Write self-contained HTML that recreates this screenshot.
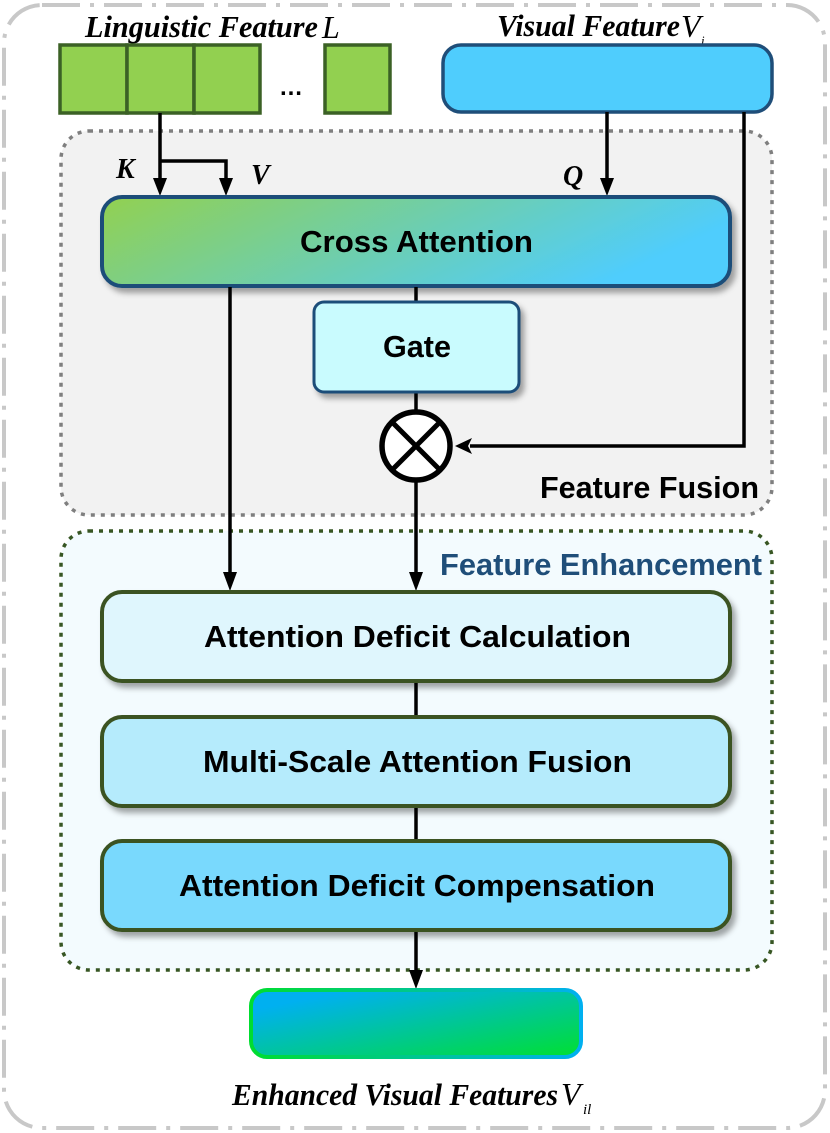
<!DOCTYPE html>
<html><head><meta charset="utf-8"><style>
html,body{margin:0;padding:0;background:#fff}
svg{display:block}
.b{font-family:"Liberation Sans",sans-serif;font-weight:bold;fill:#000}
.t{font-family:"Liberation Serif",serif;font-style:italic;font-weight:bold;fill:#000}
</style></head><body>
<svg width="830" height="1133" viewBox="0 0 830 1133" xmlns="http://www.w3.org/2000/svg">
<defs>
<linearGradient id="ca" x1="0" y1="0" x2="1" y2="0.3"><stop offset="0" stop-color="#92d050"/><stop offset="1" stop-color="#4fcdfd"/></linearGradient>
<linearGradient id="og" x1="0" y1="0" x2="1" y2="1"><stop offset="0.15" stop-color="#00b0f0"/><stop offset="1" stop-color="#00e030"/></linearGradient>
<linearGradient id="os" x1="0" y1="0" x2="1" y2="0"><stop offset="0" stop-color="#00dd30"/><stop offset="1" stop-color="#00b0f0"/></linearGradient>
<filter id="sh" x="-5%" y="-10%" width="115%" height="130%"><feDropShadow dx="4" dy="5" stdDeviation="3" flood-color="#000" flood-opacity="0.35"/></filter>
</defs>
<rect x="4" y="5" width="821" height="1123" rx="38" fill="none" stroke="#c8c8c8" stroke-width="4" stroke-dasharray="38,10,4,10"/>
<rect x="61" y="131" width="711" height="384" rx="28" fill="#f2f2f2" stroke="#7f7f7f" stroke-width="3.5" stroke-dasharray="4,6"/>
<rect x="61" y="531" width="711" height="439" rx="28" fill="#f3fbfe" stroke="#375623" stroke-width="3.5" stroke-dasharray="4,6"/>
<text class="t" x="85" y="37" font-size="31" textLength="233" lengthAdjust="spacingAndGlyphs">Linguistic Feature</text>
<text class="t" x="322" y="38" font-size="32" style="font-weight:normal">L</text>
<text class="t" x="497" y="36" font-size="31" textLength="183" lengthAdjust="spacingAndGlyphs">Visual Feature</text>
<text class="t" x="681" y="37" font-size="32" style="font-weight:normal">V</text>
<text class="t" x="701" y="45" font-size="13" style="font-weight:normal">i</text>
<g fill="#92d050" stroke="#3b6125" stroke-width="3.5">
<rect x="60" y="45" width="67" height="68"/><rect x="127" y="45" width="67" height="68"/><rect x="194" y="45" width="66" height="68"/><rect x="325" y="45" width="65" height="68"/>
</g>
<text class="b" x="279" y="95" font-size="24">…</text>
<rect x="443" y="45" width="329" height="67" rx="18" fill="#4fcdfd" stroke="#1f4e79" stroke-width="3.5"/>
<g stroke="#000" stroke-width="3.5" fill="none">
<line x1="160" y1="113" x2="160" y2="182"/>
<polyline points="160,161 226,161 226,182"/>
<line x1="607" y1="112" x2="607" y2="182"/>
<polyline points="744,112 744,446 470,446"/>
</g>
<path d="M153,178 L160,196 L167,178 Z" fill="#000"/>
<path d="M219,178 L226,196 L233,178 Z" fill="#000"/>
<path d="M600,178 L607,196 L614,178 Z" fill="#000"/>
<path d="M455,446 L472,438 L468,446 L472,454 Z" fill="#000"/>
<text class="t" x="116" y="178" font-size="28">K</text>
<text class="t" x="251" y="184" font-size="28">V</text>
<text class="t" x="563" y="185" font-size="28">Q</text>
<rect x="102" y="197" width="628" height="89" rx="20" fill="url(#ca)" stroke="#1f4e79" stroke-width="4" filter="url(#sh)"/>
<text class="b" x="300" y="252" font-size="31" textLength="233" lengthAdjust="spacingAndGlyphs">Cross Attention</text>
<g stroke="#000" stroke-width="3.5"><line x1="416" y1="287" x2="416" y2="303"/><line x1="416" y1="392" x2="416" y2="411"/>
<line x1="230" y1="287" x2="230" y2="575"/><line x1="416" y1="482" x2="416" y2="575"/>
<line x1="416" y1="930" x2="416" y2="975"/><line x1="416" y1="682" x2="416" y2="717"/><line x1="416" y1="806" x2="416" y2="841"/></g>
<path d="M223,572 L230,591 L237,572 Z" fill="#000"/>
<path d="M409,572 L416,591 L423,572 Z" fill="#000"/>
<path d="M409,970 L416,989 L423,970 Z" fill="#000"/>
<rect x="314" y="302" width="205" height="90" rx="10" fill="#c9fbfe" stroke="#1f4e79" stroke-width="3" filter="url(#sh)"/>
<text class="b" x="383" y="357" font-size="31" textLength="68" lengthAdjust="spacingAndGlyphs">Gate</text>
<ellipse cx="416" cy="446" rx="34" ry="34" fill="#fff" stroke="#000" stroke-width="5.5"/>
<line x1="392" y1="422" x2="440" y2="470" stroke="#000" stroke-width="5"/>
<line x1="440" y1="422" x2="392" y2="470" stroke="#000" stroke-width="5"/>
<text class="b" x="540" y="498" font-size="31" textLength="219" lengthAdjust="spacingAndGlyphs">Feature Fusion</text>
<text class="b" x="440" y="575" font-size="31" style="fill:#1f4e79" textLength="322" lengthAdjust="spacingAndGlyphs">Feature Enhancement</text>
<rect x="102" y="592" width="628" height="89" rx="20" fill="#dff6fd" stroke="#3b5323" stroke-width="4" filter="url(#sh)"/>
<text class="b" x="204" y="647" font-size="31" textLength="427" lengthAdjust="spacingAndGlyphs">Attention Deficit Calculation</text>
<rect x="102" y="717" width="628" height="89" rx="20" fill="#b5ebfc" stroke="#3b5323" stroke-width="4" filter="url(#sh)"/>
<text class="b" x="203" y="772" font-size="31" textLength="429" lengthAdjust="spacingAndGlyphs">Multi-Scale Attention Fusion</text>
<rect x="102" y="841" width="628" height="89" rx="20" fill="#79d9fd" stroke="#3b5323" stroke-width="4" filter="url(#sh)"/>
<text class="b" x="179" y="896" font-size="31" textLength="476" lengthAdjust="spacingAndGlyphs">Attention Deficit Compensation</text>
<rect x="251" y="990" width="330" height="67" rx="16" fill="url(#og)" stroke="url(#os)" stroke-width="4"/>
<text class="t" x="232" y="1105" font-size="31" textLength="326" lengthAdjust="spacingAndGlyphs">Enhanced Visual Features</text>
<text class="t" x="561" y="1105" font-size="32" style="font-weight:normal">V</text>
<text class="t" x="583" y="1114" font-size="15" style="font-weight:normal">il</text>
</svg>
</body></html>
